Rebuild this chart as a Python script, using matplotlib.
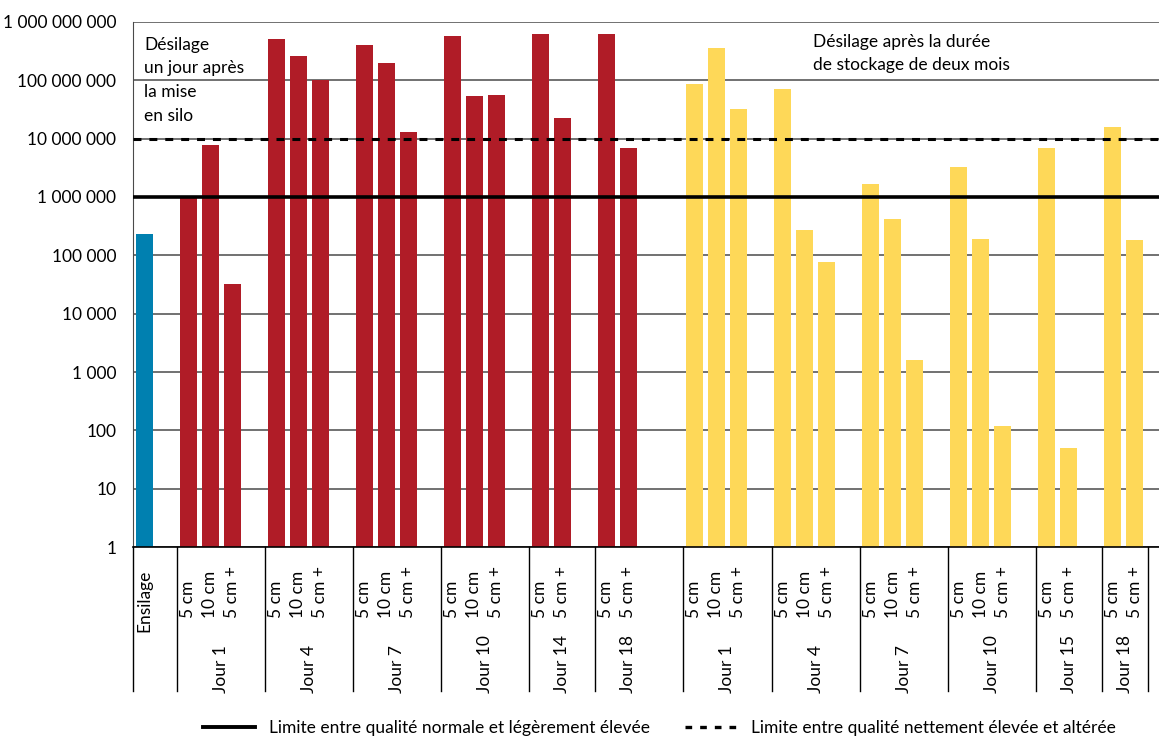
import matplotlib.pyplot as plt
from matplotlib.lines import Line2D
import matplotlib.transforms as mtransforms

plt.rcParams['font.family'] = ['Lato', 'DejaVu Sans']

ensilage_value = 2.3e5

red_days = ["Jour 1", "Jour 4", "Jour 7", "Jour 10", "Jour 14", "Jour 18"]
red_labels = [["5 cm", "10 cm", "5 cm +"], ["5 cm", "10 cm", "5 cm +"], ["5 cm", "10 cm", "5 cm +"],
              ["5 cm", "10 cm", "5 cm +"], ["5 cm", "5 cm +"], ["5 cm", "5 cm +"]]
red_values = [[1.0e6, 7.9e6, 3.2e4], [5.2e8, 2.65e8, 1.0e8], [4.1e8, 2.0e8, 1.29e7],
              [5.76e8, 5.3e7, 5.7e7], [6.2e8, 2.3e7], [6.2e8, 6.9e6]]

yellow_days = ["Jour 1", "Jour 4", "Jour 7", "Jour 10", "Jour 15", "Jour 18"]
yellow_labels = [["5 cm", "10 cm", "5 cm +"], ["5 cm", "10 cm", "5 cm +"], ["5 cm", "10 cm", "5 cm +"],
                 ["5 cm", "10 cm", "5 cm +"], ["5 cm", "5 cm +"], ["5 cm", "5 cm +"]]
yellow_values = [[8.7e7, 3.6e8, 3.2e7], [7.1e7, 2.7e5, 7.7e4], [1.67e6, 4.2e5, 1.6e3],
                 [3.27e6, 1.9e5, 119], [6.9e6, 50], [1.59e7, 1.83e5]]

limit_normal = 1e6
limit_altered = 1e7

yticks = [1, 10, 100, 1e3, 1e4, 1e5, 1e6, 1e7, 1e8, 1e9]
ytick_labels = ["1", "10", "100", "1 000", "10 000", "100 000", "1 000 000",
                "10 000 000", "100 000 000", "1 000 000 000"]

RED = "#B01C27"
BLUE = "#0080B0"
YELLOW = "#FED858"
GRID = "#4a4a4a"
W = 0.77

fig = plt.figure(figsize=(11.59, 7.38), dpi=100)
ax = fig.add_axes([0.1148, 0.2588, 0.8852, 0.7114])
ax.set_yscale("log")
ax.set_ylim(1, 1e9)
ax.set_xlim(-0.5, 46.1)

trans = mtransforms.blended_transform_factory(ax.transData, ax.transAxes)
FS = 12.5

# ensilage bar
ax.bar(0, ensilage_value, width=W, color=BLUE, zorder=2)
ax.text(0, -0.162, "Ensilage", rotation=90, ha="center", va="bottom",
        fontsize=FS, transform=trans)

# build group positions
groups = []
pos = 2
for days, labels, values, color in [(red_days, red_labels, red_values, RED),
                                    (yellow_days, yellow_labels, yellow_values, YELLOW)]:
    for day, labs, vals in zip(days, labels, values):
        xs = list(range(pos, pos + len(vals)))
        groups.append((day, labs, vals, xs, color))
        pos = xs[-1] + 2
    pos += 1

last_sep = 45.6
separators = [-0.5] + [g[3][0] - 0.5 for g in groups] + [last_sep]

for day, labs, vals, xs, color in groups:
    ax.bar(xs, vals, width=W, color=color, zorder=2)
    for x, lab in zip(xs, labs):
        ax.text(x, -0.135, lab, rotation=90, ha="center", va="bottom",
                fontsize=FS, transform=trans)
    right = min(xs[-1] + 1.5, last_sep)
    xc = (xs[0] - 0.5 + right) / 2
    ax.text(xc, -0.278, day, rotation=90, ha="center", va="bottom",
            fontsize=FS, transform=trans)

for s in separators:
    ax.plot([s, s], [0, -0.275], transform=trans, color="black", lw=1.0,
            clip_on=False, zorder=3)

# limit lines
ax.axhline(limit_normal, color="black", lw=2.6, zorder=4)
ax.axhline(limit_altered, color="black", lw=2.2, linestyle=(0, (2.6, 2.6)), zorder=4)

ax.set_yticks(yticks)
ax.set_yticklabels(ytick_labels, fontsize=FS)
ax.yaxis.set_minor_locator(plt.NullLocator())
ax.tick_params(axis="y", length=0, pad=12)
ax.tick_params(axis="x", length=0, labelbottom=False)
ax.grid(axis="y", color=GRID, lw=1.1, zorder=0)
ax.set_axisbelow(True)
for side in ["top", "right"]:
    ax.spines[side].set_visible(False)
ax.spines["left"].set_color(GRID)
ax.spines["bottom"].set_color("black")
ax.spines["bottom"].set_linewidth(1.2)

ax.text(0.0, 0.972, "Désilage\nun jour après\nla mise\nen silo", transform=trans,
        ha="left", va="top", fontsize=FS, linespacing=1.6)
ax.text(30.4, 0.978, "Désilage après la durée\nde stockage de deux mois", transform=trans,
        ha="left", va="top", fontsize=FS, linespacing=1.6)

handles = [Line2D([], [], color="black", lw=2.8),
           Line2D([], [], color="black", lw=2.4, linestyle=(0, (2.0, 2.4)))]
fig.legend(handles, ["Limite entre qualité normale et légèrement élevée",
                     "Limite entre qualité nettement élevée et altérée"],
           loc="center", bbox_to_anchor=(0.569, 0.014), ncol=2, frameon=False,
           fontsize=FS, handlelength=3.0, columnspacing=2.0, handletextpad=0.8)

fig.savefig("out.png", dpi=100)
